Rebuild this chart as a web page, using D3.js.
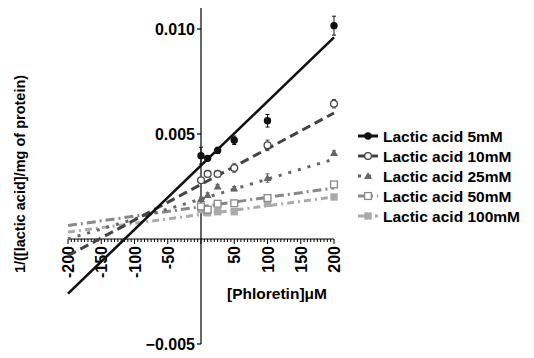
<!DOCTYPE html>
<html><head><meta charset="utf-8">
<script src="https://cdn.jsdelivr.net/npm/d3@7"></script>
<style>body{margin:0;background:#fff}svg{display:block}text{font-family:"Liberation Sans",Arial,sans-serif;font-weight:bold}</style>
</head><body><div id="c"></div>
<script>
const seriesNames = ["Lactic acid 5mM","Lactic acid 10mM","Lactic acid 25mM","Lactic acid 50mM","Lactic acid 100mM"];
const xPoints = [0, 10, 25, 50, 100, 200];
const yPoints5 = [0.00397, 0.00384, 0.00422, 0.0047, 0.00563, 0.01016];
const yPoints10 = [0.0028, 0.0031, 0.0031, 0.00338, 0.00446, 0.00644];
const yPoints25 = [0.0019, 0.0021, 0.0025, 0.0024, 0.0029, 0.0041];
const yPoints50 = [0.00155, 0.0014, 0.00168, 0.0017, 0.00195, 0.0026];
const yPoints100 = [0.0014, 0.00125, 0.0013, 0.0013, 0.0017, 0.0020];
const err5 = [0.0004, 0.0001, 0.00015, 0.0002, 0.0003, 0.00045];
const err10 = [0.0001, 0.0001, 0.0001, 0.0002, 0.00025, 0.0002];
const err25 = [0.0001, 0.0001, 0.0001, 0.0001, 0.0002, 0.0001];
const err50 = [0.0001, 0.0001, 0.0001, 0.0001, 0.00015, 0.0001];
const err100 = [0.0001, 0.0001, 0.0001, 0.0001, 0.0001, 0.0001];
const fitX = [-200, 200];
const fit5 = [-0.0026, 0.0096];
const fit10 = [-0.0008, 0.0060];
const fit25 = [0.0000, 0.0038];
const fit50 = [0.00064, 0.00243];
const fit100 = [0.00033, 0.0020];
const xTicks = [-200, -150, -100, -50, 50, 100, 150, 200];
const yTicks = [-0.005, 0.005, 0.010];

const W = 534, H = 358;
const svg = d3.select("#c").append("svg").attr("width", W).attr("height", H);
const x = d3.scaleLinear().domain([-200, 200]).range([68, 334]);
const y = d3.scaleLinear().domain([-0.005, 0.010]).range([344, 29]);

const styles = [
  {color:"#111", dash:null, marker:"circleF", yp:yPoints5, err:err5, fit:fit5},
  {color:"#444", dash:"9,5", marker:"circleO", yp:yPoints10, err:err10, fit:fit10},
  {color:"#666", dash:"3,7", marker:"tri", yp:yPoints25, err:err25, fit:fit25},
  {color:"#888", dash:"9,4,2,4", marker:"sqO", yp:yPoints50, err:err50, fit:fit50},
  {color:"#aaa", dash:"7,4,2,4", marker:"sqF", yp:yPoints100, err:err100, fit:fit100}
];

// axes
const x0 = x(0), y0 = y(0);
const xAxis = svg.append("g").attr("transform", `translate(0,${y0})`);
xAxis.append("line").attr("x1", x(-200)).attr("x2", x(200)).attr("stroke","#000").attr("stroke-width",1.2);
d3.range(-200, 201, 5).forEach(v => {
  const major = v % 50 === 0;
  xAxis.append("line").attr("x1", x(v)).attr("x2", x(v)).attr("y1",0).attr("y2", major?5:3).attr("stroke","#000").attr("stroke-width",1);
});
xTicks.forEach(v => {
  xAxis.append("text").attr("transform", `translate(${x(v)+6},7) rotate(-90)`).attr("text-anchor","end").attr("font-size",16).text(v);
});

const yAxis = svg.append("g").attr("transform", `translate(${x0},0)`);
yAxis.append("line").attr("y1", y(0.011)).attr("y2", y(-0.005)).attr("stroke","#000").attr("stroke-width",1.2);
yTicks.forEach(v => {
  yAxis.append("line").attr("x1",-4).attr("x2",0).attr("y1",y(v)).attr("y2",y(v)).attr("stroke","#000").attr("stroke-width",1.2);
  yAxis.append("text").attr("x",-6).attr("y",y(v)+6).attr("text-anchor","end").attr("font-size",16).text(d3.format(".3f")(v));
});

// fit lines (draw lighter first)
styles.slice().reverse().forEach(s => {
  svg.append("line").attr("x1", x(fitX[0])).attr("y1", y(s.fit[0])).attr("x2", x(fitX[1])).attr("y2", y(s.fit[1]))
    .attr("stroke", s.color).attr("stroke-width", s.dash?3:2.6).attr("stroke-dasharray", s.dash);
});

function marker(g, type, cx, cy, color) {
  if (type === "circleF") g.append("circle").attr("cx",cx).attr("cy",cy).attr("r",3.7).attr("fill",color);
  else if (type === "circleO") g.append("circle").attr("cx",cx).attr("cy",cy).attr("r",3.4).attr("fill","#fff").attr("stroke",color).attr("stroke-width",1.3);
  else if (type === "tri") g.append("path").attr("d",`M${cx},${cy-4}L${cx+4},${cy+3}L${cx-4},${cy+3}Z`).attr("fill",color);
  else if (type === "sqO") g.append("rect").attr("x",cx-3.4).attr("y",cy-3.4).attr("width",6.8).attr("height",6.8).attr("fill","#fff").attr("stroke",color).attr("stroke-width",1.3);
  else if (type === "sqF") g.append("rect").attr("x",cx-3.7).attr("y",cy-3.7).attr("width",7.4).attr("height",7.4).attr("fill",color);
}

// points + error bars
styles.slice().reverse().forEach(s => {
  const g = svg.append("g");
  xPoints.forEach((xv, i) => {
    const cx = x(xv), cy = y(s.yp[i]);
    const t = y(s.yp[i] + s.err[i]), b = y(s.yp[i] - s.err[i]);
    g.append("line").attr("x1",cx).attr("x2",cx).attr("y1",t).attr("y2",b).attr("stroke",s.color).attr("stroke-width",1);
    g.append("line").attr("x1",cx-2).attr("x2",cx+2).attr("y1",t).attr("y2",t).attr("stroke",s.color).attr("stroke-width",1);
    g.append("line").attr("x1",cx-2).attr("x2",cx+2).attr("y1",b).attr("y2",b).attr("stroke",s.color).attr("stroke-width",1);
    marker(g, s.marker, cx, cy, s.color);
  });
});

// titles
svg.append("text").attr("x", 277).attr("y", 299).attr("text-anchor","middle").attr("font-size",15.5).text("[Phloretin]\u03BCM");
svg.append("text").attr("transform","translate(25,174) rotate(-90)").attr("text-anchor","middle").attr("font-size",14.5).text("1/([lactic acid]/mg of protein)");

// legend
const leg = svg.append("g");
seriesNames.forEach((n, i) => {
  const s = styles[i];
  const ly = 136 + i*20;
  leg.append("line").attr("x1",358).attr("x2",378).attr("y1",ly).attr("y2",ly).attr("stroke",s.color).attr("stroke-width",3).attr("stroke-dasharray", s.dash);
  marker(leg, s.marker, 368, ly, s.color);
  leg.append("text").attr("x",383).attr("y",ly+5.5).attr("font-size",15.5).text(n);
});
</script></body></html>
